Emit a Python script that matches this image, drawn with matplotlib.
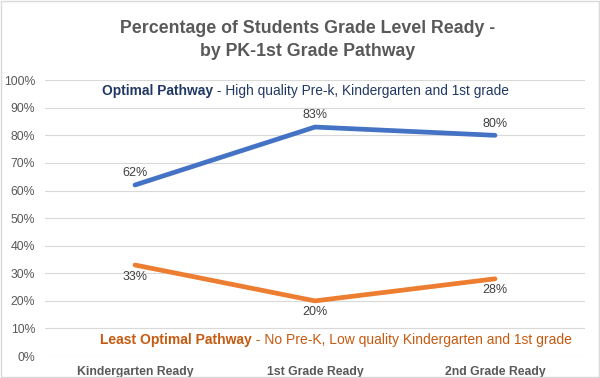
import matplotlib.pyplot as plt
from matplotlib.patches import Rectangle

plt.rcParams['font.family'] = ['Liberation Sans', 'DejaVu Sans']

# Dados do gráfico
categories = ["Kindergarten Ready", "1st Grade Ready", "2nd Grade Ready"]
optimal = [62, 83, 80]
least_optimal = [33, 20, 28]
y_ticks = [0, 10, 20, 30, 40, 50, 60, 70, 80, 90, 100]

fig = plt.figure(figsize=(6, 3.78), dpi=100)
ax = fig.add_axes([0.075, 0.058, 0.9, 0.73])

x = list(range(len(categories)))
ax.plot(x, optimal, color='#4472C4', linewidth=3.4, solid_capstyle='round', zorder=3)
ax.plot(x, least_optimal, color='#ED7D31', linewidth=3.4, solid_capstyle='round', zorder=3)

# Rótulos dos pontos
for xi, v in zip(x, optimal):
    ax.annotate(f"{v}%", (xi, v), xytext=(0, 4), textcoords='offset points',
                ha='center', va='bottom', fontsize=9, color='#404040')
for xi, v in zip(x, least_optimal):
    ax.annotate(f"{v}%", (xi, v), xytext=(0, -4), textcoords='offset points',
                ha='center', va='top', fontsize=9, color='#404040')

# Eixos e grade
ax.set_xlim(-0.5, 2.5)
ax.set_ylim(0, 100)
ax.set_yticks(y_ticks)
ax.set_yticklabels([f"{t}%" for t in y_ticks], fontsize=8.8, color='#595959')
ax.set_xticks(x)
ax.set_xticklabels(categories, fontsize=8.8, fontweight='bold', color='#595959')
ax.tick_params(axis='x', length=0, pad=7)
ax.tick_params(axis='y', length=0, pad=7)
ax.grid(axis='y', color='#D9D9D9', linewidth=0.8)
ax.set_axisbelow(True)
for s in ax.spines.values():
    s.set_visible(False)

# Legendas em texto
fig.text(0.355, 0.759, "Optimal Pathway", fontsize=9.9, fontweight='bold',
         color='#1F3864', ha='right', va='center')
fig.text(0.355, 0.759, " - High quality Pre-k, Kindergarten and 1st grade", fontsize=9.9,
         color='#1F3864', ha='left', va='center')
fig.text(0.42, 0.1, "Least Optimal Pathway", fontsize=10, fontweight='bold',
         color='#C55A11', ha='right', va='center')
fig.text(0.42, 0.1, " - No Pre-K, Low quality Kindergarten and 1st grade", fontsize=10,
         color='#C55A11', ha='left', va='center')

# Título
fig.text(0.512, 0.894, "Percentage of Students Grade Level Ready -\nby PK-1st Grade Pathway",
         fontsize=12.8, fontweight='bold', color='#595959', ha='center', va='center',
         linespacing=1.4)

# Borda da figura
fig.patches.append(Rectangle((0.002, 0.002), 0.996, 0.996, transform=fig.transFigure,
                             fill=False, edgecolor='#D9D9D9', linewidth=1))

plt.savefig('out.png', dpi=100)
